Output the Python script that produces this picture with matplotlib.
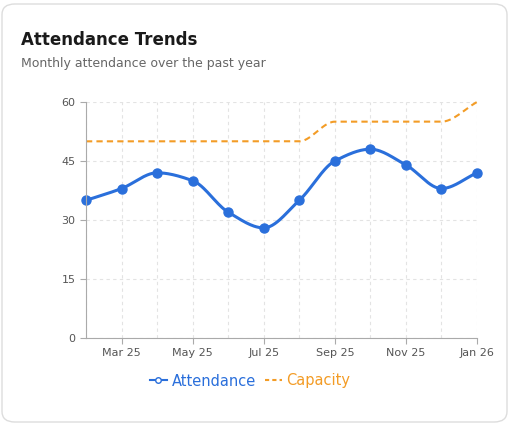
import numpy as np
import matplotlib.pyplot as plt
from matplotlib.patches import FancyBboxPatch
from matplotlib.lines import Line2D

months = ["Feb 25", "Mar 25", "Apr 25", "May 25", "Jun 25", "Jul 25", "Aug 25",
          "Sep 25", "Oct 25", "Nov 25", "Dec 25", "Jan 26"]
attendance = [35, 38, 42, 40, 32, 28, 35, 45, 48, 44, 38, 42]
capacity = [50, 50, 50, 50, 50, 50, 50, 55, 55, 55, 55, 60]
y_ticks = [0, 15, 30, 45, 60]


def monotone(x, y, n=30):
    # monotone cubic (like d3 curveMonotoneX)
    x = np.asarray(x, float); y = np.asarray(y, float)
    h = np.diff(x); d = np.diff(y) / h
    m = np.zeros(len(x))
    m[0], m[-1] = d[0], d[-1]
    for i in range(1, len(x) - 1):
        if d[i - 1] * d[i] <= 0:
            m[i] = 0
        else:
            m[i] = 3 * (h[i - 1] + h[i]) / ((2 * h[i] + h[i - 1]) / d[i - 1] + (h[i] + 2 * h[i - 1]) / d[i])
    xs, ys = [], []
    for i in range(len(x) - 1):
        t = np.linspace(0, 1, n)
        h00 = 2 * t**3 - 3 * t**2 + 1; h10 = t**3 - 2 * t**2 + t
        h01 = -2 * t**3 + 3 * t**2; h11 = t**3 - t**2
        xs.append(x[i] + t * h[i])
        ys.append(h00 * y[i] + h10 * h[i] * m[i] + h01 * y[i + 1] + h11 * h[i] * m[i + 1])
    return np.concatenate(xs), np.concatenate(ys)


W, H = 511, 424
fig = plt.figure(figsize=(W / 100, H / 100), dpi=100)
card = FancyBboxPatch((2 / W, 2 / H), 1 - 6 / W, 1 - 6 / H,
                      boxstyle="round,pad=0,rounding_size=0.025",
                      transform=fig.transFigure, fc="white", ec="#dddddd", lw=1, zorder=-10)
fig.patches.append(card)
fig.text(21 / W, 1 - 40 / H, "Attendance Trends", fontsize=12, fontweight="bold", color="#1a1a1a", va="center")
fig.text(21 / W, 1 - 63 / H, "Monthly attendance over the past year", fontsize=9, color="#666666", va="center")

ax = fig.add_axes([86 / W, 1 - 338 / H, (477 - 86) / W, (338 - 102) / H], zorder=5)
ax.patch.set_alpha(0)
x = np.arange(len(months))
ax.set_xlim(0, len(months) - 1)
ax.set_ylim(0, 60)

cx, cy = monotone(x, capacity)
ax.plot(cx, cy, color="#f39c26", lw=1.5, ls=(0, (3, 2)), clip_on=False)
axx, axy = monotone(x, attendance)
ax.plot(axx, axy, color="#2a6fdb", lw=2.2, clip_on=False)
ax.plot(x, attendance, "o", color="#2a6fdb", ms=6.5, clip_on=False)

ax.set_yticks(y_ticks)
ax.set_xticks(x, minor=True)
ax.set_xticks(x[1::2])
ax.set_xticklabels(months[1::2])
ax.grid(True, which="both", axis="x", color="#e3e3e3", ls=(0, (3, 3)), lw=0.8)
ax.grid(True, axis="y", color="#e3e3e3", ls=(0, (3, 3)), lw=0.8)
ax.set_axisbelow(True)
for s in ["top", "right"]:
    ax.spines[s].set_visible(False)
for s in ["left", "bottom"]:
    ax.spines[s].set_color("#aaaaaa")
ax.tick_params(colors="#555555", labelsize=8, length=4)
ax.tick_params(which="minor", length=0)
ax.tick_params(axis="x", color="#aaaaaa")
ax.tick_params(axis="y", color="#aaaaaa")

handles = [Line2D([], [], color="#2a6fdb", marker="o", mfc="white", ms=4, lw=1.5),
           Line2D([], [], color="#f39c26", ls=(0, (2, 1.5)), lw=1.5)]
leg = fig.legend(handles, ["Attendance", "Capacity"], loc="center", bbox_to_anchor=(250 / W, 1 - 381 / H),
                 ncol=2, frameon=False, fontsize=10.5, handlelength=1.2, handletextpad=0.3, columnspacing=0.6)
for t, c in zip(leg.get_texts(), ["#2a6fdb", "#f39c26"]):
    t.set_color(c)

fig.savefig("out.png", dpi=100)
